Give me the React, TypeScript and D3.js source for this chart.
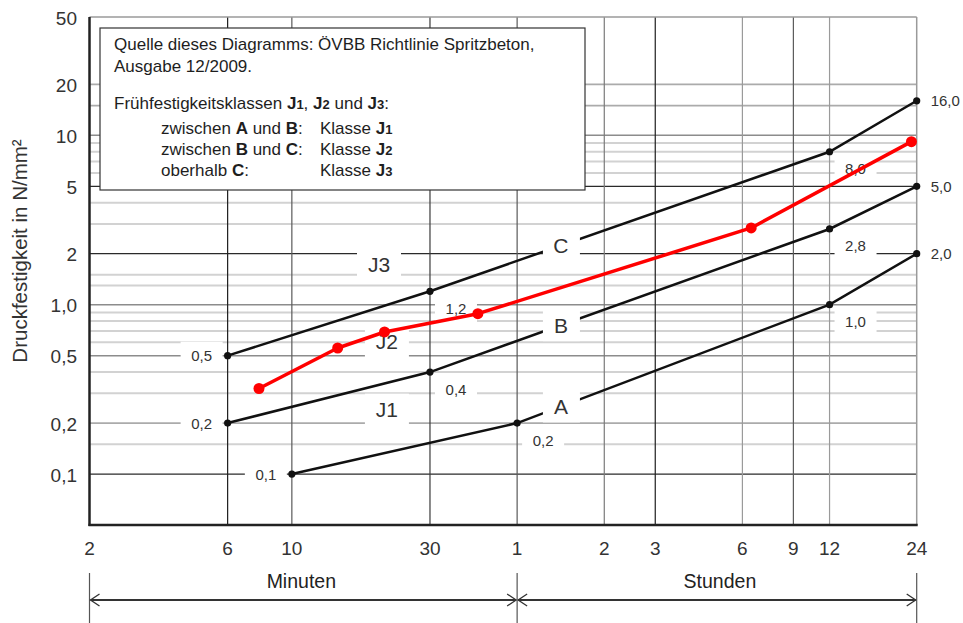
import React from 'react';
import * as d3 from 'd3';

const W = 963;
const H = 623;

// time in minutes
const xTickValues = [2, 6, 10, 30, 60, 120, 180, 360, 540, 720, 1440];
const xTickLabels = ['2', '6', '10', '30', '1', '2', '3', '6', '9', '12', '24'];
const xGridValues = [6, 10, 30, 60, 120, 180, 360, 540, 720];

const yTickValues = [50, 20, 10, 5, 2, 1, 0.5, 0.2, 0.1];
const yTickLabels = ['50', '20', '10', '5', '2', '1,0', '0,5', '0,2', '0,1'];
const yGridValues = [0.1, 0.15, 0.2, 0.3, 0.4, 0.5, 0.6, 0.7, 0.8, 0.9, 1, 1.3, 1.5, 2, 3, 4, 5, 6, 7, 8, 9, 10, 15, 20];

const lineNames = ['C', 'B', 'A'];
const lineCTimes = [6, 30, 720, 1440];
const lineCValues = [0.5, 1.2, 8.0, 16.0];
const lineBTimes = [6, 30, 720, 1440];
const lineBValues = [0.2, 0.4, 2.8, 5.0];
const lineATimes = [10, 60, 720, 1440];
const lineAValues = [0.1, 0.2, 1.0, 2.0];

const sampleTimes = [7.7, 14.4, 20.9, 43.9, 386, 1381];
const sampleValues = [0.32, 0.555, 0.69, 0.885, 2.84, 9.18];

const classNames = ['J3', 'J2', 'J1'];
const classTimes = [20, 21.3, 21.3];
const classValues = [1.72, 0.605, 0.24];

const letterTime = 85;

const FONT = 'Liberation Sans, Arial, Helvetica, sans-serif';

const x = d3.scaleLog().domain([2, 1440]).range([89.5, 916.7]);
const y = d3.scaleLog().domain([0.05, 50]).range([525, 17]);

function interpAt(times: number[], values: number[], t: number): number {
  for (let i = 0; i < times.length - 1; i++) {
    if (t >= times[i] && t <= times[i + 1]) {
      const f = Math.log(t / times[i]) / Math.log(times[i + 1] / times[i]);
      return Math.exp(Math.log(values[i]) + f * Math.log(values[i + 1] / values[i]));
    }
  }
  return values[values.length - 1];
}

const fmt = (v: number) => d3.format('.1f')(v).replace('.', ',');

function hStyle(v: number) {
  if (v === 0.1 || v === 2 || v === 5) return { stroke: '#2a2a2a', w: 1.2 };
  if (v === 0.5 || v === 1 || v === 10) return { stroke: '#8c8c8c', w: 1.5 };
  if (v === 20 || v === 15 || v === 0.2) return { stroke: '#ababab', w: 1.8 };
  return { stroke: '#d2d2d2', w: 2 };
}
function vStyle(t: number) {
  if (t === 6 || t === 180) return '#1e1e1e';
  if (t === 30) return '#3a3a3a';
  if (t === 10 || t === 60 || t === 540) return '#5a5a5a';
  if (t === 120) return '#7a7a7a';
  return '#9a9a9a';
}

const J = ({ d }: { d: string }) => (
  <>
    <tspan fontWeight="bold">J</tspan>
    <tspan fontWeight="bold" fontSize={13}>{d}</tspan>
  </>
);

export default function App() {
  const lines = [
    { t: lineCTimes, v: lineCValues },
    { t: lineBTimes, v: lineBValues },
    { t: lineATimes, v: lineAValues },
  ];
  const pathFor = (ts: number[], vs: number[]) =>
    d3
      .line<number>()
      .x((t) => x(t))
      .y((_, i) => y(vs[i]))(ts) as string;

  const x0 = x(2);
  const x1 = x(1440);
  const y0 = y(50);
  const y1 = y(0.05);

  const valueLabels: { cx: number; cy: number; text: string; anchor: string; box: boolean }[] = [];
  lines.forEach((ln) => {
    ln.t.forEach((t, i) => {
      const px = x(t);
      const py = y(ln.v[i]);
      const text = fmt(ln.v[i]);
      if (i === 0) valueLabels.push({ cx: px - 26, cy: py, text, anchor: 'middle', box: true });
      else if (i === ln.t.length - 1) valueLabels.push({ cx: px + 14, cy: py, text, anchor: 'start', box: false });
      else valueLabels.push({ cx: px + 26, cy: py + 17, text, anchor: 'middle', box: true });
    });
  });

  const arrowY = 600;
  const xMid = x(60);

  return (
    <div style={{ position: 'absolute', left: 0, top: 0 }}>
      <svg width={W} height={H} style={{ display: 'block', background: '#fff' }} fontFamily={FONT}>
        <rect x={0} y={0} width={W} height={H} fill="#fff" />
        {/* horizontal grid */}
        {yGridValues.map((v) => {
          const s = hStyle(v);
          return <line key={'h' + v} x1={x0} x2={x1} y1={y(v)} y2={y(v)} stroke={s.stroke} strokeWidth={s.w} />;
        })}
        {/* vertical grid */}
        {xGridValues.map((t) => (
          <line key={'v' + t} x1={x(t)} x2={x(t)} y1={y0} y2={y1} stroke={vStyle(t)} strokeWidth={1.2} />
        ))}
        {/* frame */}
        <line x1={x0} x2={x1} y1={y0} y2={y0} stroke="#9a9a9a" strokeWidth={1.5} />
        <line x1={x1} x2={x1} y1={y0} y2={y1} stroke="#9a9a9a" strokeWidth={1.5} />
        <line x1={x0} x2={x0} y1={y0} y2={y1 + 1} stroke="#222" strokeWidth={2.5} />
        <line x1={x0 - 1} x2={x1 + 1} y1={y1} y2={y1} stroke="#222" strokeWidth={2.5} />

        {/* legend box */}
        <rect x={100} y={28} width={485} height={162} fill="#fff" stroke="#333" strokeWidth={1.2} />
        <g fontSize={17} fill="#1e1e1e">
          <text x={114} y={50}>Quelle dieses Diagramms: ÖVBB Richtlinie Spritzbeton,</text>
          <text x={114} y={72}>Ausgabe 12/2009.</text>
          <text x={114} y={109}>
            Frühfestigkeitsklassen <J d="1" />, <J d="2" /> und <J d="3" />:
          </text>
          <text x={161} y={134}>
            zwischen <tspan fontWeight="bold">A</tspan> und <tspan fontWeight="bold">B</tspan>:
          </text>
          <text x={320} y={134}>
            Klasse <J d="1" />
          </text>
          <text x={161} y={155}>
            zwischen <tspan fontWeight="bold">B</tspan> und <tspan fontWeight="bold">C</tspan>:
          </text>
          <text x={320} y={155}>
            Klasse <J d="2" />
          </text>
          <text x={161} y={176}>
            oberhalb <tspan fontWeight="bold">C</tspan>:
          </text>
          <text x={320} y={176}>
            Klasse <J d="3" />
          </text>
        </g>

        {/* black lines */}
        {lines.map((ln, i) => (
          <path key={'l' + i} d={pathFor(ln.t, ln.v)} fill="none" stroke="#111" strokeWidth={2.5} />
        ))}

        {/* class labels */}
        {classNames.map((n, i) => {
          const cx = x(classTimes[i]);
          const cy = y(classValues[i]);
          return (
            <g key={n}>
              <rect x={cx - 22} y={cy - 16} width={44} height={32} fill="#fff" />
              <text x={cx} y={cy} textAnchor="middle" dominantBaseline="central" fontSize={21} fill="#333">
                {n}
              </text>
            </g>
          );
        })}
        {/* line letters */}
        {lineNames.map((n, i) => {
          const cx = x(letterTime);
          const cy = y(interpAt(lines[i].t, lines[i].v, letterTime));
          return (
            <g key={n}>
              <rect x={cx - 18} y={cy - 16} width={37} height={32} fill="#fff" />
              <text x={cx} y={cy} textAnchor="middle" dominantBaseline="central" fontSize={21} fill="#333">
                {n}
              </text>
            </g>
          );
        })}
        {/* value labels */}
        {valueLabels.map((l, i) => (
          <g key={'vl' + i}>
            {l.box && <rect x={l.cx - 21} y={l.cy - 14} width={42} height={28} fill="#fff" />}
            <text x={l.cx} y={l.cy} textAnchor={l.anchor as any} dominantBaseline="central" fontSize={15} fill="#333">
              {l.text}
            </text>
          </g>
        ))}
        {/* black markers */}
        {lines.map((ln, i) =>
          ln.t.map((t, j) => <circle key={'m' + i + '-' + j} cx={x(t)} cy={y(ln.v[j])} r={3.6} fill="#111" />)
        )}

        {/* red sample */}
        <path d={pathFor(sampleTimes, sampleValues)} fill="none" stroke="#ff0000" strokeWidth={3.5} strokeLinejoin="round" />
        {sampleTimes.map((t, i) => (
          <circle key={'r' + i} cx={x(t)} cy={y(sampleValues[i])} r={5.5} fill="#ff0000" />
        ))}

        {/* y ticks */}
        {yTickValues.map((v, i) => (
          <text key={'yt' + v} x={77} y={y(v) + 1} textAnchor="end" dominantBaseline="central" fontSize={19} fill="#333">
            {yTickLabels[i]}
          </text>
        ))}
        {/* x ticks */}
        {xTickValues.map((t, i) => (
          <text key={'xt' + t} x={x(t)} y={555} textAnchor="middle" fontSize={19} fill="#333">
            {xTickLabels[i]}
          </text>
        ))}

        {/* y title */}
        <text transform={`translate(27,251) rotate(-90)`} textAnchor="middle" fontSize={20.5} fill="#333">
          Druckfestigkeit in N/mm²
        </text>

        {/* bottom arrows */}
        <g stroke="#333" fill="none">
          <line x1={x0} x2={x0} y1={573} y2={623} strokeWidth={1.2} stroke="#555" />
          <line x1={xMid} x2={xMid} y1={573} y2={623} strokeWidth={1.2} stroke="#555" />
          <line x1={x1} x2={x1} y1={573} y2={623} strokeWidth={1.2} stroke="#555" />
          <line x1={x0 + 1} x2={xMid - 1} y1={arrowY} y2={arrowY} strokeWidth={1.8} />
          <line x1={xMid + 1} x2={x1 - 1} y1={arrowY} y2={arrowY} strokeWidth={1.8} />
          <path d={`M${x0 + 10},${arrowY - 6} L${x0 + 1},${arrowY} L${x0 + 10},${arrowY + 6}`} strokeWidth={1.3} />
          <path d={`M${xMid - 10},${arrowY - 6} L${xMid - 1},${arrowY} L${xMid - 10},${arrowY + 6}`} strokeWidth={1.3} />
          <path d={`M${xMid + 10},${arrowY - 6} L${xMid + 1},${arrowY} L${xMid + 10},${arrowY + 6}`} strokeWidth={1.3} />
          <path d={`M${x1 - 10},${arrowY - 6} L${x1 - 1},${arrowY} L${x1 - 10},${arrowY + 6}`} strokeWidth={1.3} />
        </g>
        <text x={(x0 + xMid) / 2 - 2} y={588} textAnchor="middle" fontSize={19.5} fill="#222">
          Minuten
        </text>
        <text x={(xMid + x1) / 2 + 3} y={588} textAnchor="middle" fontSize={19.5} fill="#222">
          Stunden
        </text>
      </svg>
    </div>
  );
}
